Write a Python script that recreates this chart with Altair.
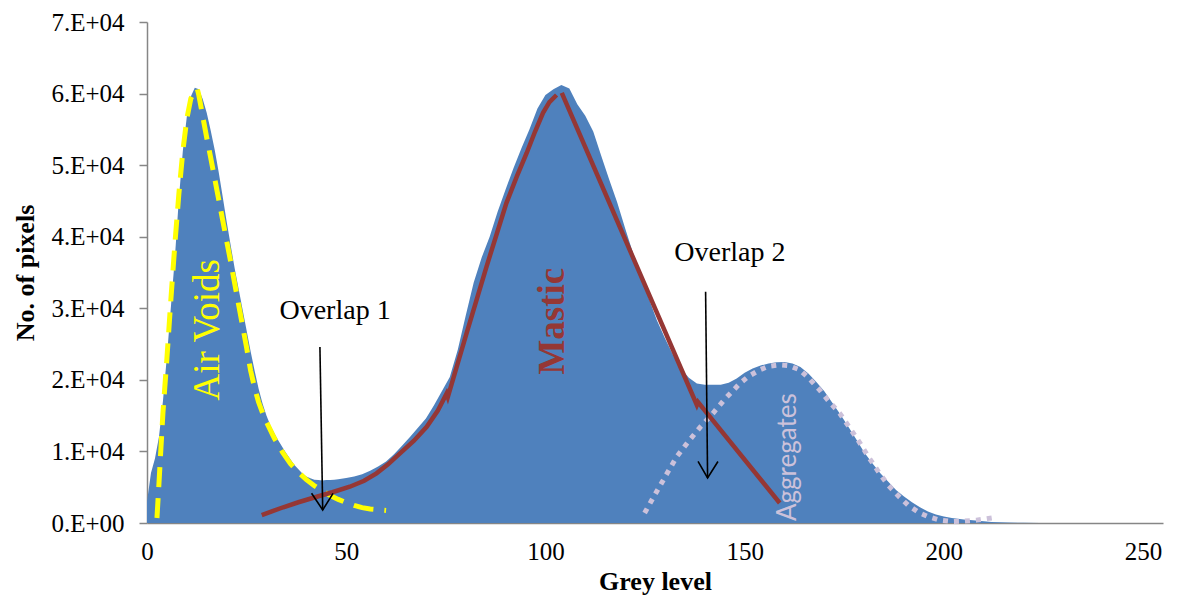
import altair as alt
import pandas as pd

# ---------------- data ----------------
# grey-level histogram (blue area)
hist_x = [0, 1, 2, 3, 4, 5, 6, 7, 8, 9,
          10, 11, 12, 13, 14, 15, 16, 17, 18, 19,
          20, 21, 22, 23, 24, 25, 26, 27, 28, 29,
          30, 31, 32, 33, 34, 35, 36, 37, 38, 39,
          40, 41, 42, 43, 44, 45, 46, 47, 48,
          50, 52, 54, 56, 58, 60, 62, 64, 66, 68,
          70, 72, 74, 76, 78, 80, 82, 84, 86, 88,
          90, 92, 94, 96, 98, 100, 102, 104, 106, 108,
          110, 112, 114, 116, 118, 120, 122, 124, 126, 128,
          130, 132, 134, 136, 138, 140, 142, 144, 146, 148,
          150, 152, 154, 156, 158, 160, 162, 164, 166, 168,
          170, 172, 174, 176, 178, 180, 182, 184, 186, 188,
          190, 192, 194, 196, 198, 200,
          202, 205, 208, 212, 216, 220, 224, 255]
hist_y = [3000, 7000, 9000, 12000, 17000, 23300, 30200, 37100, 45300, 52000,
          56800, 59600, 60800, 60600, 59200, 57300, 54800, 52100, 49000, 45600,
          42100, 38800, 35600, 32700, 29800, 26900, 24000, 21300, 18800, 16700,
          15000, 13600, 12500, 11500, 10600, 9700, 8900, 8100, 7500, 6900,
          6500, 6250, 6050, 6000, 5950, 6000, 6000, 6050, 6100,
          6300, 6500, 6800, 7300, 7900, 8600, 9600, 10800, 12000, 13300,
          14600, 16400, 18400, 20400, 24200, 29000, 33600, 37100, 40000, 43500,
          46600, 49600, 52400, 55000, 57900, 59800, 60600, 61200, 60700, 58500,
          56900, 54700, 51300, 48000, 44800, 41200, 37700, 34500, 31300, 28300,
          25800, 23500, 21600, 20300, 19500, 19300, 19300, 19300, 19600, 20200,
          21000, 21600, 22000, 22300, 22450, 22500, 22300, 21800, 20900, 19700,
          18400, 16800, 15200, 13500, 11700, 9900, 8400, 7000, 5800, 4600,
          3700, 2900, 2200, 1600, 1200, 900,
          700, 500, 350, 150, 60, 20, 0, 0]

# Air voids fit (yellow dashed)
air_x = [2.5, 3, 3.5, 4, 5, 6, 7, 8, 9, 10, 11, 12, 12.6,
         13, 14, 15, 16, 17, 18, 19, 20, 21, 22, 23, 24, 25, 26, 27, 28, 29, 30,
         32, 34, 36, 38, 40, 42, 44, 46, 48, 50, 52, 54, 56, 58, 60]
air_y = [700, 5500, 10500, 15400, 23000, 31300, 39000, 46000, 52000, 56500, 59300, 60400, 60700,
         59800, 56800, 53800, 51000, 48100, 45200, 42300, 39400, 36500, 33500, 30500, 27500,
         24500, 21300, 18900, 16900, 15400, 14100,
         11800, 9900, 8300, 7100, 6050, 5200, 4500, 3850, 3300, 2850, 2450, 2150, 1950, 1850, 1750]

# Mastic fit (dark red line, two pieces)
mastic_x = [28.8, 31.5, 34.2, 38, 42.6, 46.5, 50.9, 54.5, 57.6, 60.5, 63.5, 67, 70.2, 73,
            75.2, 75.5, 80.2, 85.2, 90.2, 92.8, 95.3, 97.4, 99.4, 101, 102.8,
            104.1, 138.0, 138.3, 158.8]
mastic_y = [1100, 1650, 2200, 2900, 3670, 4300, 5070, 5900, 6940, 8200, 9740, 11500, 13450, 15700,
            18100, 17600, 26500, 35800, 44700, 48400, 51700, 54700, 57300, 58800, 59800,
            60100, 16500, 16900, 2800]
mastic_seg = [1] * 25 + [2] * 4

# Aggregates fit (lavender dotted)
agg_x = [124.9, 127, 130.5, 133, 136.2, 139, 142, 145, 148.8, 151,
         153.8, 156, 158.8, 161, 163.8, 166, 168.8, 171, 173.9, 176,
         178.9, 181, 183.9, 186, 188.9, 191, 193.9, 196, 199, 202,
         205, 208.2, 210, 212.5]
agg_y = [1400, 3500, 6900, 9300, 11600, 13500, 15300, 17300, 19500, 20500,
         21400, 21900, 22100, 22000, 21400, 20300, 18600, 17100, 15300, 13600,
         11200, 9300, 6900, 5300, 3600, 2500, 1400, 900, 400, 200,
         250, 400, 550, 750]

# Overlap arrows (shaft + open head), in data units
arrow_x = [43.4, 44.1, 41.3, 44.1, 46.7,
           140.2, 140.7, 138.3, 140.7, 143.3]
arrow_y = [24600, 1820, 4150, 1820, 4150,
           32300, 6300, 8600, 6300, 8600]
arrow_part = ["s1", "s1", "h1", "h1", "h1",
              "s2", "s2", "h2", "h2", "h2"]

# text labels
overlap_x = [47.2, 146.3]
overlap_y = [28500, 36600]
overlap_t = ["Overlap 1", "Overlap 2"]

x_ticks = [0, 50, 100, 150, 200, 250]
y_ticks = [0, 10000, 20000, 30000, 40000, 50000, 60000, 70000]

# ---------------- frames ----------------
hist = pd.DataFrame({"g": hist_x, "n": hist_y})
air = pd.DataFrame({"g": air_x, "n": air_y, "o": list(range(len(air_x)))})
mastic = pd.DataFrame({"g": mastic_x, "n": mastic_y, "seg": mastic_seg,
                       "o": list(range(len(mastic_x)))})
agg = pd.DataFrame({"g": agg_x, "n": agg_y, "o": list(range(len(agg_x)))})
arrows = pd.DataFrame({"g": arrow_x, "n": arrow_y, "part": arrow_part,
                       "o": list(range(len(arrow_x)))})
overlaps = pd.DataFrame({"g": overlap_x, "n": overlap_y, "t": overlap_t})
lab_air = pd.DataFrame({"g": [15.3], "n": [27000], "t": ["Air Voids"]})
lab_mastic = pd.DataFrame({"g": [101.9], "n": [28200], "t": ["Mastic"]})
lab_agg = pd.DataFrame({"g": [160.8], "n": [9200], "t": ["Aggregates"]})

SERIF = "Liberation Serif"

X = alt.X("g:Q",
          scale=alt.Scale(domain=[0, 255], nice=False, zero=False),
          axis=alt.Axis(values=x_ticks, title="Grey level", grid=False, ticks=False,
                        labelFont=SERIF, labelFontSize=25, labelColor="black",
                        labelPadding=16, labelFlush=False, labelOverlap=False,
                        domainColor="#868686", domainWidth=1.5,
                        titleFont=SERIF, titleFontSize=26, titleFontWeight="bold",
                        titleColor="black", titlePadding=4))
Y = alt.Y("n:Q",
          scale=alt.Scale(domain=[0, 70000], nice=False),
          axis=alt.Axis(values=y_ticks, title="No. of pixels", grid=False,
                        labelExpr="datum.value == 0 ? '0.E+00' : format(datum.value / 10000, 'd') + '.E+04'",
                        labelFont=SERIF, labelFontSize=25, labelColor="black",
                        labelPadding=15, tickSize=8, tickColor="#868686", tickWidth=1.5,
                        domainColor="#868686", domainWidth=1.5, labelOverlap=False,
                        titleFont=SERIF, titleFontSize=26, titleFontWeight="bold",
                        titleColor="black", titlePadding=12))

area = alt.Chart(hist).mark_area(color="#4F81BD", interpolate="linear").encode(x=X, y=Y)

air_line = alt.Chart(air).mark_line(color="#FFFF00", strokeWidth=5, strokeDash=[20, 11],
                                    strokeCap="butt").encode(x=X, y=Y, order="o:Q")

agg_line = alt.Chart(agg).mark_line(color="#CCC1DA", strokeWidth=5, strokeDash=[5, 6],
                                    strokeCap="butt").encode(x=X, y=Y, order="o:Q")

mastic_line = alt.Chart(mastic).mark_line(color="#953735", strokeWidth=4.5).encode(
    x=X, y=Y, detail="seg:N", order="o:Q")

arrow_lines = alt.Chart(arrows).mark_line(color="black", strokeWidth=1.6).encode(
    x=X, y=Y, detail="part:N", order="o:Q")

overlap_text = alt.Chart(overlaps).mark_text(font=SERIF, fontSize=28, color="black",
                                             align="center", baseline="alphabetic").encode(
    x=X, y=Y, text="t:N")

air_text = alt.Chart(lab_air).mark_text(font=SERIF, fontSize=37, color="#FFFF00", angle=270,
                                        align="center", baseline="middle").encode(
    x=X, y=Y, text="t:N")

mastic_text = alt.Chart(lab_mastic).mark_text(font=SERIF, fontSize=37, fontWeight="bold",
                                              color="#953735", angle=270,
                                              align="center", baseline="middle").encode(
    x=X, y=Y, text="t:N")

agg_text = alt.Chart(lab_agg).mark_text(font="Lato", fontSize=26, color="#CCC1DA", angle=270,
                                        align="center", baseline="middle").encode(
    x=X, y=Y, text="t:N")

chart = alt.layer(area, air_line, agg_line, mastic_line, arrow_lines,
                  overlap_text, air_text, mastic_text, agg_text).properties(
    width=1016, height=501,
    autosize=alt.AutoSizeParams(type="none"),
    padding={"left": 147, "top": 22, "right": 18, "bottom": 74},
    background="white",
).configure_view(stroke=None)

chart.save("out.html", embed_options={"renderer": "svg", "actions": False})
